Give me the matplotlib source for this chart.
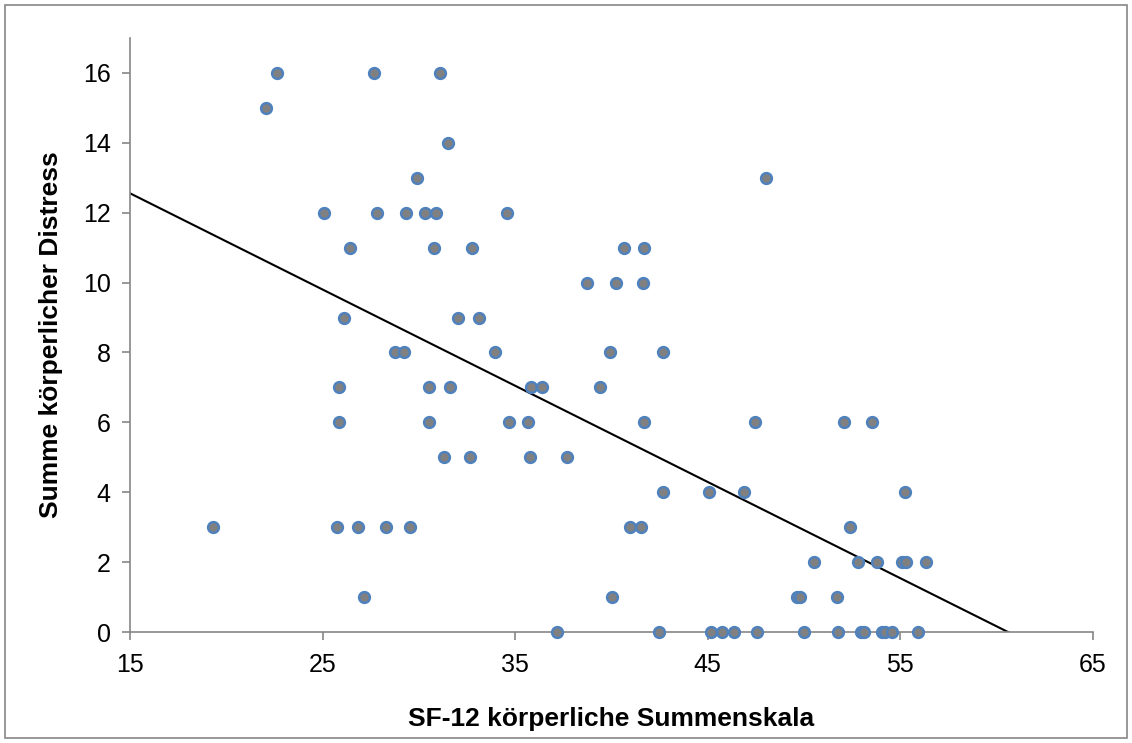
import numpy as np
import matplotlib.pyplot as plt
from matplotlib.patches import Rectangle

# SF-12 physical summary score (x) vs. sum of physical distress (y)
sf12 = [
    22.65, 27.65, 31.08,
    22.06,
    31.51,
    29.88, 48.0,
    25.07, 27.82, 29.31, 30.33, 30.89, 34.57,
    26.44, 30.77, 32.76, 40.65, 41.67,
    38.74, 40.25, 41.65,
    26.13, 32.01, 33.12,
    28.76, 29.23, 33.93, 39.94, 42.69,
    25.85, 30.54, 31.60, 35.82, 36.37, 39.42,
    25.87, 30.54, 34.70, 35.66, 41.67, 47.45, 52.09, 53.54,
    31.30, 32.64, 35.75, 37.69,
    42.65, 45.04, 46.88, 55.25,
    19.29, 25.77, 26.84, 28.29, 29.52, 40.94, 41.51, 52.40,
    50.50, 52.82, 53.80, 55.08, 55.27, 56.33,
    27.17, 40.01, 49.65, 49.80, 51.69,
    37.17, 42.47, 45.18, 45.74, 46.38, 47.57, 49.98, 51.78,
    52.95, 53.11, 54.03, 54.20, 54.56, 55.91,
]
distress = [
    16, 16, 16,
    15,
    14,
    13, 13,
    12, 12, 12, 12, 12, 12,
    11, 11, 11, 11, 11,
    10, 10, 10,
    9, 9, 9,
    8, 8, 8, 8, 8,
    7, 7, 7, 7, 7, 7,
    6, 6, 6, 6, 6, 6, 6, 6,
    5, 5, 5, 5,
    4, 4, 4, 4,
    3, 3, 3, 3, 3, 3, 3, 3,
    2, 2, 2, 2, 2, 2,
    1, 1, 1, 1, 1,
    0, 0, 0, 0, 0, 0, 0, 0,
    0, 0, 0, 0, 0, 0,
]
x_ticks = [15, 25, 35, 45, 55, 65]
y_ticks = [0, 2, 4, 6, 8, 10, 12, 14, 16]

x = np.array(sf12)
y = np.array(distress)

plt.rcParams["font.family"] = ["Liberation Sans", "DejaVu Sans"]

fig = plt.figure(figsize=(11.32, 7.43), dpi=100)
ax = fig.add_axes([130 / 1132, 111 / 743, 963 / 1132, 594 / 743])

# scatter points: grey fill, blue rim
ax.scatter(x, y, s=60, color="#808080", edgecolors="#4f81bd",
           linewidths=1.8, zorder=3, clip_on=False)

# linear trend line over the full axis range
slope, intercept = np.polyfit(x, y, 1)
xs = np.array([15, 65])
ax.plot(xs, slope * xs + intercept, color="black", linewidth=1.5, zorder=2)

ax.set_xlim(15, 65)
ax.set_ylim(0, 17)
ax.set_xticks(x_ticks)
ax.set_yticks(y_ticks)
ax.tick_params(labelsize=18, colors="#868686", labelcolor="black",
               length=6, width=1.2, direction="out")
ax.tick_params(axis="x", pad=9)
ax.tick_params(axis="y", pad=8)

for side in ["top", "right"]:
    ax.spines[side].set_visible(False)
for side in ["left", "bottom"]:
    ax.spines[side].set_color("#868686")
    ax.spines[side].set_linewidth(1.2)

ax.set_xlabel("SF-12 körperliche Summenskala", fontsize=19,
              fontweight="bold", labelpad=22)
ax.set_ylabel("Summe körperlicher Distress", fontsize=19,
              fontweight="bold", labelpad=14)

# outer chart border
fig.patches.append(Rectangle((5 / 1132, 5 / 743), 1122 / 1132, 733 / 743,
                             transform=fig.transFigure, fill=False,
                             edgecolor="#868686", linewidth=1.2))

fig.savefig("out.png", dpi=100)
